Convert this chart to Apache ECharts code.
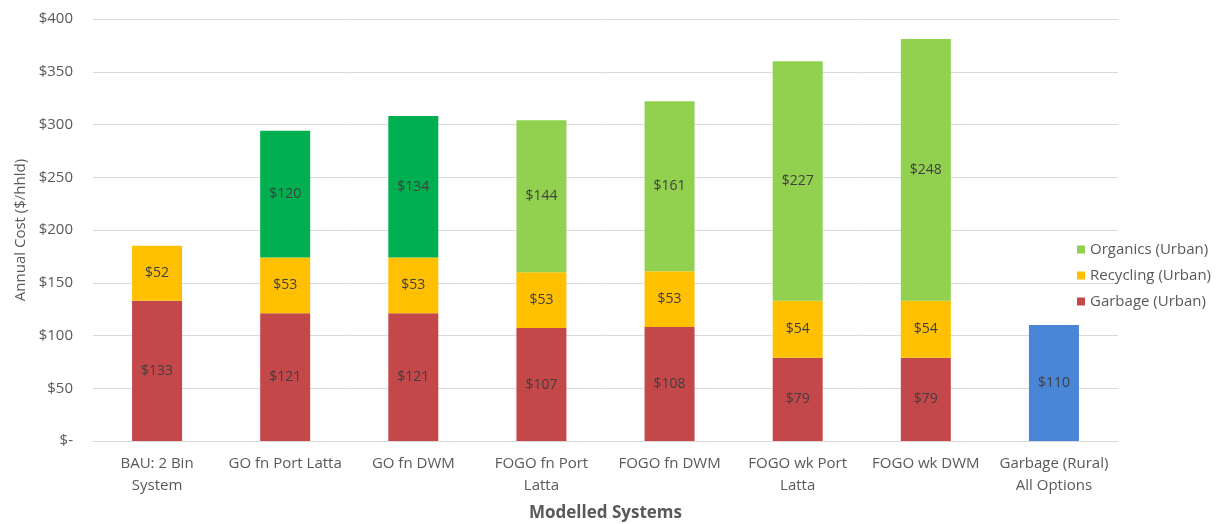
<!DOCTYPE html>
<html>
<head>
<meta charset="utf-8">
<script src="https://cdn.jsdelivr.net/npm/echarts@6/dist/echarts.min.js"></script>
<style>
  html, body { margin: 0; padding: 0; background: #ffffff; }
  #chart { width: 1227px; height: 524px; }
</style>
</head>
<body>
<div id="chart"></div>
<script>
// Modelled waste-collection systems and their annual cost per household
const categories = [
  'BAU: 2 Bin\nSystem',
  'GO fn Port Latta',
  'GO fn DWM',
  'FOGO fn Port\nLatta',
  'FOGO fn DWM',
  'FOGO wk Port\nLatta',
  'FOGO wk DWM',
  'Garbage (Rural)\nAll Options'
];
const garbageUrban = [133, 121, 121, 107, 108, 79, 79, null];
const recyclingUrban = [52, 53, 53, 53, 53, 54, 54, null];
const organicsUrban = [null, 120, 134, 144, 161, 227, 248, null];
const garbageRural = [null, null, null, null, null, null, null, 110];
// GO systems (garden organics only) are shown in a darker green
const organicsShade = ['', 'go', 'go', 'fogo', 'fogo', 'fogo', 'fogo', ''];

const colors = {
  garbage: '#c4474a',
  recycling: '#ffc000',
  organics: '#92d050',
  organicsGO: '#00b050',
  rural: '#4a86d8'
};

const font = '"Open Sans", Lato, sans-serif';
const textColor = '#595959';
const labelStyle = {
  show: true,
  position: 'inside',
  color: '#404040',
  fontFamily: font,
  fontSize: 14,
  formatter: p => '$' + p.value
};

const chart = echarts.init(document.getElementById('chart'), null, { renderer: 'canvas' });
chart.setOption({
  animation: false,
  backgroundColor: '#ffffff',
  grid: { left: 93, right: 109, top: 19, bottom: 83, containLabel: false, outerBoundsMode: 'none' },
  legend: {
    orient: 'vertical',
    left: 1072,
    top: 237,
    itemWidth: 8,
    itemHeight: 8,
    itemGap: 11,
    icon: 'rect',
    textStyle: { color: textColor, fontFamily: font, fontSize: 15 },
    data: ['Organics (Urban)', 'Recycling (Urban)', 'Garbage (Urban)']
  },
  xAxis: {
    type: 'category',
    data: categories,
    name: 'Modelled Systems',
    nameLocation: 'middle',
    nameGap: 64,
    nameTextStyle: { color: textColor, fontFamily: font, fontSize: 17, fontWeight: 'bold' },
    axisLine: { lineStyle: { color: '#d9d9d9' } },
    axisTick: { show: false },
    axisLabel: {
      color: textColor,
      fontFamily: font,
      fontSize: 15,
      lineHeight: 22,
      margin: 12,
      interval: 0
    }
  },
  yAxis: {
    type: 'value',
    min: 0,
    max: 400,
    interval: 50,
    name: 'Annual Cost ($/hhld)',
    nameLocation: 'middle',
    nameGap: 65,
    nameRotate: 90,
    nameTextStyle: { color: textColor, fontFamily: font, fontSize: 15 },
    axisLine: { show: false },
    axisTick: { show: false },
    axisLabel: {
      color: textColor,
      fontFamily: font,
      fontSize: 15,
      margin: 20,
      formatter: v => v === 0 ? '$-' : '$' + v
    },
    splitLine: { lineStyle: { color: '#d9d9d9' } }
  },
  series: [
    {
      name: 'Garbage (Urban)',
      type: 'bar',
      stack: 'cost',
      barWidth: 50,
      itemStyle: { color: colors.garbage },
      label: labelStyle,
      data: garbageUrban
    },
    {
      name: 'Recycling (Urban)',
      type: 'bar',
      stack: 'cost',
      barWidth: 50,
      itemStyle: { color: colors.recycling },
      label: labelStyle,
      data: recyclingUrban
    },
    {
      name: 'Organics (Urban)',
      type: 'bar',
      stack: 'cost',
      barWidth: 50,
      itemStyle: { color: colors.organics },
      label: labelStyle,
      data: organicsUrban.map((v, i) => ({
        value: v,
        itemStyle: { color: organicsShade[i] === 'go' ? colors.organicsGO : colors.organics }
      }))
    },
    {
      name: 'Garbage (Rural)',
      type: 'bar',
      stack: 'cost',
      barWidth: 50,
      itemStyle: { color: colors.rural },
      label: labelStyle,
      data: garbageRural
    }
  ]
});
</script>
</body>
</html>
